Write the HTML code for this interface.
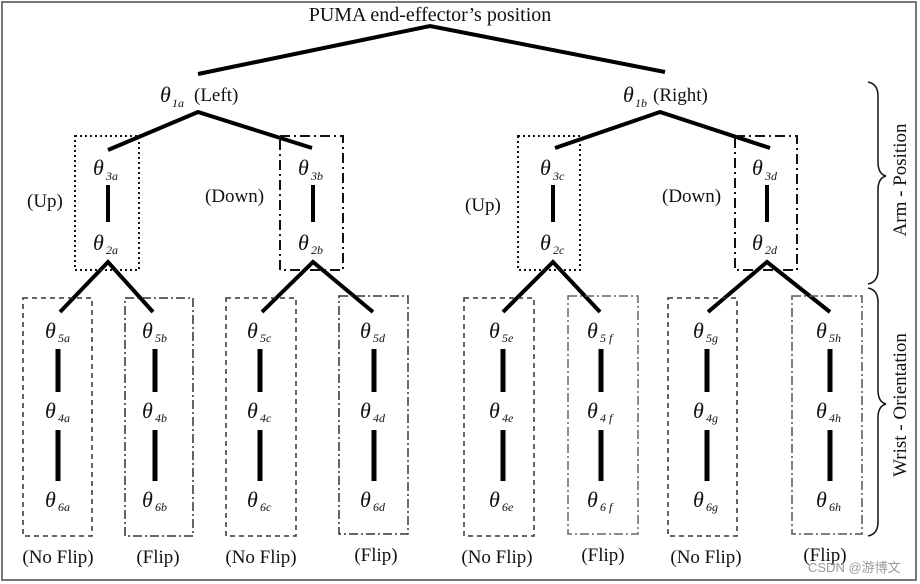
<!DOCTYPE html>
<html><head><meta charset="utf-8"><style>
body{margin:0;background:#fff}
svg{display:block}
text{font-family:"Liberation Serif",serif;fill:#111}
.t{font-style:italic;font-size:22px}
.s{font-style:italic;font-size:12px}
.l{font-size:19px}
</style></head><body>
<svg width="920" height="584" viewBox="0 0 920 584">
<rect x="2" y="2" width="914" height="578" fill="none" stroke="#777" stroke-width="2"/>
<text x="430" y="21" text-anchor="middle" style="font-size:20px">PUMA end-effector’s position</text>
<g stroke="#000" stroke-width="4" fill="none">
<polyline points="198,74 430,26 665,72"/>
<polyline points="108,150 198,112 312,148"/>
<polyline points="555,148 660,112 770,148"/>
<line x1="108" y1="185" x2="108" y2="222"/><line x1="313" y1="185" x2="313" y2="222"/>
<line x1="553" y1="185" x2="553" y2="222"/><line x1="767" y1="185" x2="767" y2="222"/>
<polyline points="60,312 108,262 153,312"/>
<polyline points="262,312 313,262 373,312"/>
<polyline points="503,312 553,262 600,312"/>
<polyline points="708,312 767,262 830,312"/>
<g stroke-width="5">
<line x1="58" y1="349" x2="58" y2="392"/><line x1="58" y1="430" x2="58" y2="481"/>
<line x1="155" y1="349" x2="155" y2="392"/><line x1="155" y1="430" x2="155" y2="481"/>
<line x1="260" y1="349" x2="260" y2="392"/><line x1="260" y1="430" x2="260" y2="481"/>
<line x1="374" y1="349" x2="374" y2="392"/><line x1="374" y1="430" x2="374" y2="481"/>
<line x1="503" y1="349" x2="503" y2="392"/><line x1="503" y1="430" x2="503" y2="481"/>
<line x1="601" y1="349" x2="601" y2="392"/><line x1="601" y1="430" x2="601" y2="481"/>
<line x1="707" y1="349" x2="707" y2="392"/><line x1="707" y1="430" x2="707" y2="481"/>
<line x1="830" y1="349" x2="830" y2="392"/><line x1="830" y1="430" x2="830" y2="481"/>
</g>
</g>
<g fill="none" stroke="#111" stroke-width="2">
<rect x="75" y="136" width="64" height="134" stroke-dasharray="2,3"/>
<rect x="518" y="136" width="62" height="134" stroke-dasharray="2,3"/>
<rect x="280" y="136" width="63" height="134" stroke-dasharray="10,4,2,4"/>
<rect x="735" y="136" width="62" height="134" stroke-dasharray="10,4,2,4"/>
<g stroke-width="1.5" stroke="#333">
<rect x="23" y="298" width="69" height="238" stroke-dasharray="5,4"/>
<rect x="226" y="298" width="70" height="238" stroke-dasharray="5,4"/>
<rect x="464" y="298" width="70" height="238" stroke-dasharray="5,4"/>
<rect x="668" y="298" width="69" height="238" stroke-dasharray="5,4"/>
<rect x="125" y="298" width="68" height="238" stroke-dasharray="9,3,2,3"/>
<rect x="339" y="296" width="69" height="238" stroke-dasharray="9,3,2,3"/>
<rect x="568" y="296" width="70" height="238" stroke-dasharray="9,3,2,3" stroke="#666"/>
<rect x="792" y="296" width="70" height="238" stroke-dasharray="9,3,2,3" stroke="#555"/>
</g>
<path d="M868,82 q10,2 10,14 v66 q0,12 8,14 q-8,2 -8,14 v80 q0,12 -10,14" stroke-width="1.5"/>
<path d="M868,288 q10,2 10,14 v88 q0,12 8,14 q-8,2 -8,14 v104 q0,12 -10,14" stroke-width="1.5"/>
</g>
<text class="l" transform="translate(906,180) rotate(-90)" text-anchor="middle">Arm - Position</text>
<text class="l" transform="translate(906,405) rotate(-90)" text-anchor="middle">Wrist - Orientation</text>
<text x="160" y="102" class="t">θ</text><text x="172" y="107" class="s">1a</text><text x="194" y="101" class="l">(Left)</text>
<text x="623" y="102" class="t">θ</text><text x="635" y="107" class="s">1b</text><text x="653" y="101" class="l">(Right)</text>
<text x="93" y="175" class="t">θ</text><text x="106" y="180" class="s">3a</text>
<text x="93" y="250" class="t">θ</text><text x="106" y="254" class="s">2a</text>
<text x="298" y="175" class="t">θ</text><text x="311" y="180" class="s">3b</text>
<text x="298" y="250" class="t">θ</text><text x="311" y="254" class="s">2b</text>
<text x="540" y="175" class="t">θ</text><text x="553" y="180" class="s">3c</text>
<text x="540" y="250" class="t">θ</text><text x="553" y="254" class="s">2c</text>
<text x="752" y="175" class="t">θ</text><text x="765" y="180" class="s">3d</text>
<text x="752" y="250" class="t">θ</text><text x="765" y="254" class="s">2d</text>
<text x="27" y="207" class="l">(Up)</text><text x="205" y="202" class="l">(Down)</text>
<text x="465" y="211" class="l">(Up)</text><text x="662" y="202" class="l">(Down)</text>
<g>
<text x="45" y="338" class="t">θ</text><text x="58" y="342" class="s">5a</text>
<text x="45" y="418" class="t">θ</text><text x="58" y="422" class="s">4a</text>
<text x="45" y="507" class="t">θ</text><text x="58" y="511" class="s">6a</text>
<text x="142" y="338" class="t">θ</text><text x="155" y="342" class="s">5b</text>
<text x="142" y="418" class="t">θ</text><text x="155" y="422" class="s">4b</text>
<text x="142" y="507" class="t">θ</text><text x="155" y="511" class="s">6b</text>
<text x="247" y="338" class="t">θ</text><text x="260" y="342" class="s">5c</text>
<text x="247" y="418" class="t">θ</text><text x="260" y="422" class="s">4c</text>
<text x="247" y="507" class="t">θ</text><text x="260" y="511" class="s">6c</text>
<text x="360" y="338" class="t">θ</text><text x="373" y="342" class="s">5d</text>
<text x="360" y="418" class="t">θ</text><text x="373" y="422" class="s">4d</text>
<text x="360" y="507" class="t">θ</text><text x="373" y="511" class="s">6d</text>
<text x="489" y="338" class="t">θ</text><text x="502" y="342" class="s">5e</text>
<text x="489" y="418" class="t">θ</text><text x="502" y="422" class="s">4e</text>
<text x="489" y="507" class="t">θ</text><text x="502" y="511" class="s">6e</text>
<text x="587" y="338" class="t">θ</text><text x="600" y="342" class="s">5 f</text>
<text x="587" y="418" class="t">θ</text><text x="600" y="422" class="s">4 f</text>
<text x="587" y="507" class="t">θ</text><text x="600" y="511" class="s">6 f</text>
<text x="693" y="338" class="t">θ</text><text x="706" y="342" class="s">5g</text>
<text x="693" y="418" class="t">θ</text><text x="706" y="422" class="s">4g</text>
<text x="693" y="507" class="t">θ</text><text x="706" y="511" class="s">6g</text>
<text x="816" y="338" class="t">θ</text><text x="829" y="342" class="s">5h</text>
<text x="816" y="418" class="t">θ</text><text x="829" y="422" class="s">4h</text>
<text x="816" y="507" class="t">θ</text><text x="829" y="511" class="s">6h</text>
</g>
<g text-anchor="middle">
<text x="58" y="563" class="l">(No Flip)</text><text x="158" y="563" class="l">(Flip)</text>
<text x="261" y="563" class="l">(No Flip)</text><text x="376" y="561" class="l">(Flip)</text>
<text x="497" y="563" class="l">(No Flip)</text><text x="603" y="561" class="l">(Flip)</text>
<text x="706" y="563" class="l">(No Flip)</text><text x="825" y="561" class="l">(Flip)</text>
</g>
<text x="808" y="572" style="font-family:'Liberation Sans','Noto Sans CJK SC',sans-serif;font-size:13px;fill:#999">CSDN @游博文</text>
</svg>
</body></html>
